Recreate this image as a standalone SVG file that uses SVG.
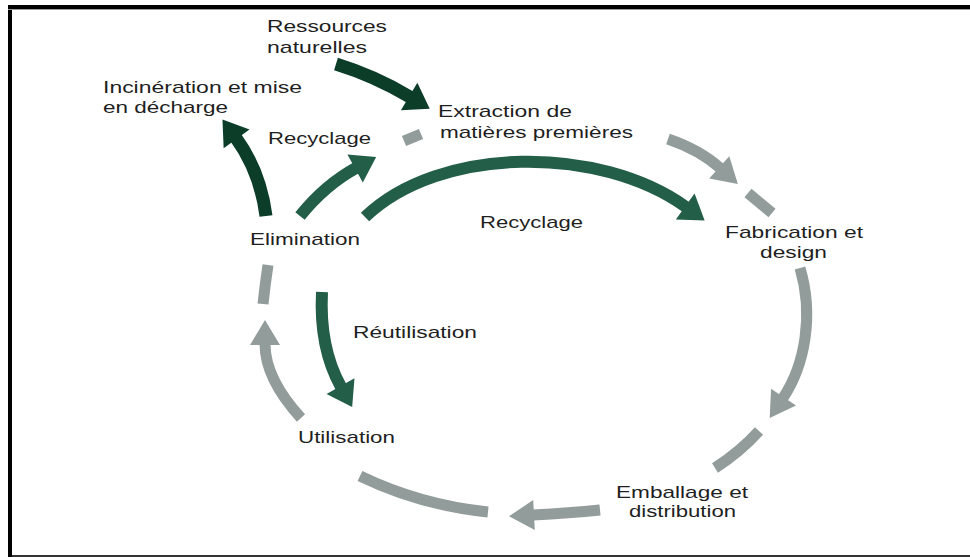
<svg xmlns="http://www.w3.org/2000/svg" width="970" height="557" viewBox="0 0 970 557">
<style>
text{font-family:"Liberation Sans",Arial,sans-serif;font-size:17px;fill:#1f1f1f}
.g{fill:none;stroke:#929c9a;stroke-width:11}
.d{fill:none;stroke:#0c3d29;stroke-width:13}
.m{fill:none;stroke:#235e48;stroke-width:12}
</style>
<defs>
<marker id="hg" markerUnits="userSpaceOnUse" orient="auto" refX="0" refY="0" markerWidth="40" markerHeight="40" viewBox="-2 -20 30 40" overflow="visible"><path d="M-1,-15 L24,0 L-1,15 z" fill="#929c9a"/></marker>
<marker id="hd" markerUnits="userSpaceOnUse" orient="auto" refX="0" refY="0" markerWidth="40" markerHeight="40" viewBox="-2 -20 30 40" overflow="visible"><path d="M-1,-16 L23,0 L-1,16 z" fill="#0c3d29"/></marker>
<marker id="hm" markerUnits="userSpaceOnUse" orient="auto" refX="0" refY="0" markerWidth="40" markerHeight="40" viewBox="-2 -20 30 40" overflow="visible"><path d="M-1,-16 L23,0 L-1,16 z" fill="#235e48"/></marker>
</defs>
<rect width="970" height="557" fill="#fff"/>
<g id="frame">
<rect x="8" y="5" width="962" height="4" fill="#000"/>
<rect x="8" y="5" width="4" height="552" fill="#000"/>
<rect x="8" y="9" width="962" height="1" fill="#9a9a9a"/>
<rect x="12" y="555" width="958" height="2" fill="#333"/>
</g>
<g id="connectors">
<path class="g" d="M404,141 L421,134"/>
<path class="g" d="M668,139 Q700,150 720,168" marker-end="url(#hg)"/>
<path class="g" d="M748,193 L772,213"/>
<path class="g" d="M800,268 C814,315 805,365 783,398" marker-end="url(#hg)"/>
<path class="g" d="M759,431 Q740,452 715,468"/>
<path class="g" d="M600,510 Q570,513 533,515" marker-end="url(#hg)"/>
<path class="g" d="M488,512 Q420,505 360,476"/>
<path class="g" d="M301,418 C280,395 265,370 265,344" marker-end="url(#hg)"/>
<path class="g" d="M263,304 Q265,285 268,265"/>
<path class="d" d="M336,64 Q375,76 410,97" marker-end="url(#hd)"/>
<path class="d" d="M266,216 C262,185 252,160 236,138" marker-end="url(#hd)"/>
<path class="m" d="M300,216 Q325,185 356,168" marker-end="url(#hm)"/>
<path class="m" d="M365,217 C440,145 600,145 686,207" marker-end="url(#hm)"/>
<path class="m" d="M322,292 C320,330 326,360 341,387" marker-end="url(#hm)"/>
</g>
<g id="ressources"><text x="267" y="32" textLength="120" lengthAdjust="spacingAndGlyphs">Ressources</text><text x="267" y="53" textLength="100" lengthAdjust="spacingAndGlyphs">naturelles</text></g>
<g id="incineration"><text x="103" y="93" textLength="199" lengthAdjust="spacingAndGlyphs">Incinération et mise</text><text x="103" y="113" textLength="125" lengthAdjust="spacingAndGlyphs">en décharge</text></g>
<g id="extraction"><text x="438" y="117" textLength="134" lengthAdjust="spacingAndGlyphs">Extraction de</text><text x="440" y="138" textLength="193" lengthAdjust="spacingAndGlyphs">matières premières</text></g>
<g id="recyclage1"><text x="268" y="144" textLength="103" lengthAdjust="spacingAndGlyphs">Recyclage</text></g>
<g id="elimination"><text x="250" y="245" textLength="110" lengthAdjust="spacingAndGlyphs">Elimination</text></g>
<g id="recyclage2"><text x="480" y="228" textLength="103" lengthAdjust="spacingAndGlyphs">Recyclage</text></g>
<g id="fabrication"><text x="725" y="238" textLength="138" lengthAdjust="spacingAndGlyphs">Fabrication et</text><text x="760" y="258" textLength="67" lengthAdjust="spacingAndGlyphs">design</text></g>
<g id="reutilisation"><text x="353" y="338" textLength="124" lengthAdjust="spacingAndGlyphs">Réutilisation</text></g>
<g id="utilisation"><text x="298" y="443" textLength="97" lengthAdjust="spacingAndGlyphs">Utilisation</text></g>
<g id="emballage"><text x="616" y="498" textLength="132" lengthAdjust="spacingAndGlyphs">Emballage et</text><text x="629" y="517" textLength="107" lengthAdjust="spacingAndGlyphs">distribution</text></g>
</svg>
